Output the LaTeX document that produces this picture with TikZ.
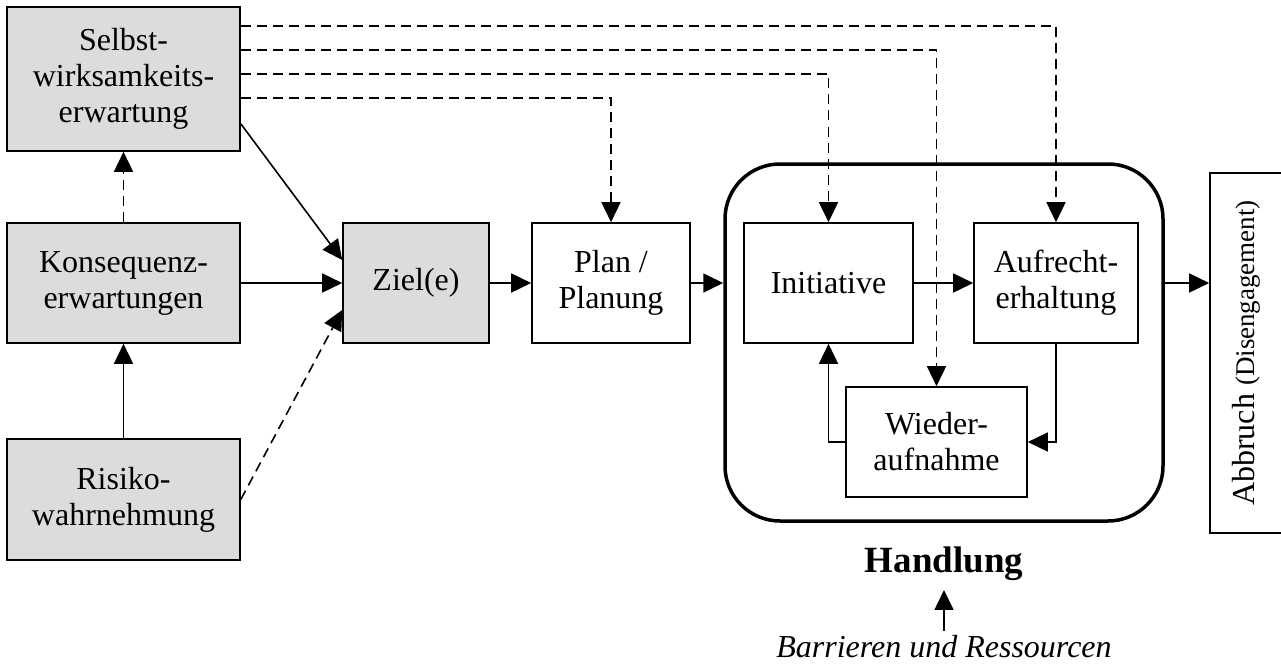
\documentclass[tikz,border=0pt]{standalone}
\usepackage{fontspec}
\setmainfont{Liberation Serif}
\usetikzlibrary{positioning, arrows.meta}
\definecolor{boxgray}{RGB}{220,220,220}

\begin{document}
\begin{tikzpicture}[x=1pt, y=-1pt,
		box/.style={draw, line width=1.6pt, inner sep=0pt, align=center, font=\fontsize{32}{36}\selectfont},
		gbox/.style={box, fill=boxgray},
		conn/.style={line width=1.6pt, -{Triangle[length=20pt,width=19pt]}},
		dconn/.style={conn, dash pattern=on 10pt off 6pt}]
			\useasboundingbox (0,0) rectangle (1281,666);

			\node[gbox, minimum width=233pt, minimum height=144pt] (swe) at (123.5,79) {Selbst-\\wirksamkeits-\\erwartung};
			\node[gbox, minimum width=233pt, minimum height=120pt] (ke) at (123.5,283) {Konsequenz-\\erwartungen};
			\node[gbox, minimum width=233pt, minimum height=121pt] (rw) at (123.5,499.5) {Risiko-\\wahrnehmung};
			\node[gbox, minimum width=146pt, minimum height=120pt] (ziel) at (416,283) {Ziel(e)};
			\node[box, minimum width=158pt, minimum height=120pt] (plan) at (611,283) {Plan /\\Planung};

			\node[draw, line width=3.5pt, rounded corners=55pt, minimum width=438pt, minimum height=357pt] (hdl) at (944,342.5) {};
			\node[box, minimum width=169pt, minimum height=120pt] (ini) at (828.5,283) {Initiative};
			\node[box, minimum width=164pt, minimum height=120pt] (auf) at (1056,283) {Aufrecht-\\erhaltung};
			\node[box, minimum width=181pt, minimum height=110pt] (wa) at (936.5,442) {Wieder-\\aufnahme};

			\node[box, minimum width=72pt, minimum height=360pt] (abb) at (1246,353) {};
			\node[rotate=90, font=\fontsize{32}{36}\selectfont] (abbtxt) at (abb) {Abbruch {\fontsize{27}{30}\selectfont(Disengagement)}};

			\node[below=24pt of hdl, inner sep=0pt, font=\fontsize{37}{42}\selectfont\bfseries] (hl) {Handlung};
			\node[below=54pt of hl, inner sep=0pt, font=\fontsize{32}{36}\selectfont\itshape] (br) {Barrieren und Ressourcen};

			\path[conn] (ke) edge (ziel)
			(rw) edge (ke)
			(ziel) edge (plan)
			(ini) edge (auf)
			([yshift=28pt]swe.south east) edge ([yshift=23pt]ziel.west)
			(plan.east) edge (hdl.west |- plan.east)
			(hdl.east |- auf.east) edge (abb.west |- auf.east)
			(br) edge[shorten <=4pt, shorten >=9pt] (hl);

			\draw[conn] (auf.south) |- (wa.east);
			\draw[conn] (wa.west) -| (ini.south);

			\path[dconn] (ke) edge (swe)
			(rw.east) edge ([yshift=-27pt]ziel.west);

			\draw[dconn] ([yshift=-20pt]swe.north east) -| (auf.north);
			\draw[dconn] ([yshift=-44pt]swe.north east) -| (wa.north);
			\draw[dconn] ([yshift=-68pt]swe.north east) -| (ini.north);
			\draw[dconn] ([yshift=-92pt]swe.north east) -| (plan.north);

		\end{tikzpicture}
\end{document}
